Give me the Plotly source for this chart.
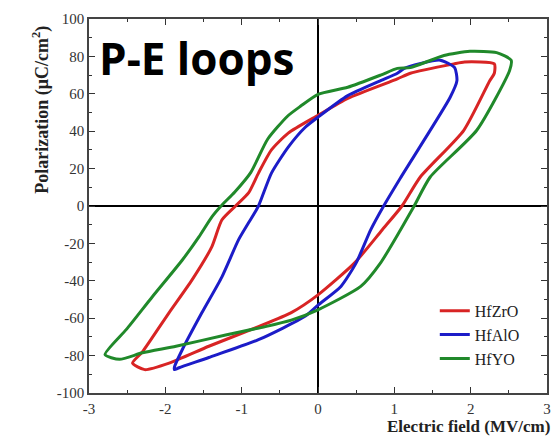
import plotly.graph_objects as go

# HfZrO loop (upper branch from +Emax to -Emax, then lower branch back)
zro_E = [2.31, 1.92, 1.78, 1.21, 1.04, 0.39, 0.0, -0.39, -0.61, -0.78, -0.91, -1.08, -1.26, -1.39, -1.65, -1.95, -2.30, -2.43,
         -2.27, -1.95, -1.43, -0.78, -0.35, 0.0, 0.48, 0.84, 1.10, 1.34, 1.91, 2.25, 2.31, 2.31]
zro_P = [76, 77, 76, 71, 68, 57.6, 48.5, 39, 30, 17.6, 7, 0, -7.5, -21.7, -39.5, -57, -78, -84,
         -87.5, -84, -75, -64.5, -57, -47.5, -30.4, -12.8, 0, 15.5, 40.5, 67, 71, 76]

# HfAlO loop
alo_E = [1.79, 1.60, 1.13, 1.04, 0.82, 0.39, 0.0, -0.17, -0.39, -0.61, -0.78, -0.91, -1.04, -1.26, -1.52, -1.78, -1.88,
         -1.88, -1.82, -1.43, -0.78, -0.17, 0.0, 0.30, 0.50, 0.69, 0.86, 1.08, 1.73, 1.82, 1.79]
alo_P = [74, 78, 73.6, 71, 67, 59, 47.5, 42, 31.5, 17.6, 0, -9, -18, -38, -57, -77, -86,
         -87.5, -86.5, -81, -71.5, -59, -53, -43, -30.4, -12.8, 0, 15, 58, 67, 74]

# HfYO loop
yo_E = [2.53, 2.34, 1.99, 1.65, 1.21, 1.04, 0.82, 0.39, 0.0, -0.23, -0.40, -0.66, -0.88, -1.09, -1.27, -1.39, -1.56, -1.78,
        -2.17, -2.51, -2.79, -2.60, -2.30, -1.86, -1.21, -0.69, -0.35, 0.0, 0.56, 0.82, 1.08, 1.26, 1.47, 2.08, 2.51, 2.53]
yo_P = [78, 82, 82.7, 80.5, 74, 73.6, 70, 63.5, 59.7, 53.3, 48, 35.7, 18, 7.5, 0, -5.8, -16.5, -29,
        -48.5, -66, -79.5, -82, -78.5, -75, -69, -64.5, -61, -55.5, -43, -30.4, -12.8, 0, 15.5, 40.5, 72.5, 78]

names = ["HfZrO", "HfAlO", "HfYO"]
colors = ["#d82424", "#1c1cc8", "#20892a"]

x_ticks = [-3, -2, -1, 0, 1, 2, 3]
x_ticktext = ["-3", "-2", "-1", "0", "1", "2", "3"]
y_ticks = [-100, -80, -60, -40, -20, 0, 20, 40, 60, 80, 100]
y_ticktext = ["-100", "-80", "-60", "-40", "-20", "0", "20", "40", "60", "80", "100"]

SERIF = "Liberation Serif, Times New Roman, serif"

fig = go.Figure()
for E, P, n, c in zip([zro_E, alo_E, yo_E], [zro_P, alo_P, yo_P], names, colors):
    fig.add_trace(go.Scatter(x=E, y=P, mode="lines", name=n,
                             line=dict(color=c, width=3, shape="spline", smoothing=0.6)))

tickfont = dict(family=SERIF, size=15, color="#333")
fig.update_xaxes(range=[-3, 3], tickvals=x_ticks, ticktext=x_ticktext, ticks="inside", ticklen=6, tickwidth=1.2,
                 tickcolor="#333", showline=True, linecolor="#444", linewidth=1.5, mirror="ticks",
                 showgrid=False, zeroline=True, zerolinecolor="black", zerolinewidth=1.5,
                 ticklabelstandoff=1,
                 tickfont=tickfont, minor=dict(dtick=0.5, tick0=0, ticks="inside", ticklen=3, tickcolor="#333"))
fig.update_yaxes(range=[-100, 100], tickvals=y_ticks, ticktext=y_ticktext, ticks="inside", ticklen=6, tickwidth=1.2,
                 tickcolor="#333", showline=True, linecolor="#444", linewidth=1.5, mirror="ticks",
                 showgrid=False, zeroline=True, zerolinecolor="black", zerolinewidth=1.5,
                 tickfont=tickfont, minor=dict(dtick=10, tick0=0, ticks="inside", ticklen=3, tickcolor="#333"))

fig.update_layout(
    width=554, height=437,
    margin=dict(l=89, r=3, t=19, b=44),
    paper_bgcolor="white", plot_bgcolor="white",
    showlegend=True,
    legend=dict(x=0.755, y=0.265, xanchor="left", yanchor="top", bgcolor="rgba(0,0,0,0)",
                font=dict(family=SERIF, size=16, color="#222"), tracegroupgap=0),
    annotations=[
        dict(text="<b>P-E loops</b>", xref="paper", yref="paper", x=0.018, y=0.895,
             xanchor="left", yanchor="middle", showarrow=False,
             font=dict(family="Open Sans", size=44, color="black")),
        dict(text="<b>Electric field (MV/cm)</b>", xref="paper", yref="paper", x=1.01, y=-0.09,
             xanchor="right", yanchor="middle", showarrow=False,
             font=dict(family=SERIF, size=17, color="#222")),
        dict(text="<b>Polarization (μC/cm<sup>2</sup>)</b>", xref="paper", yref="paper", x=-0.105, y=0.757,
             xanchor="center", yanchor="middle", textangle=-90, showarrow=False,
             font=dict(family=SERIF, size=18, color="#222")),
    ],
)

fig.write_html("out.html")
